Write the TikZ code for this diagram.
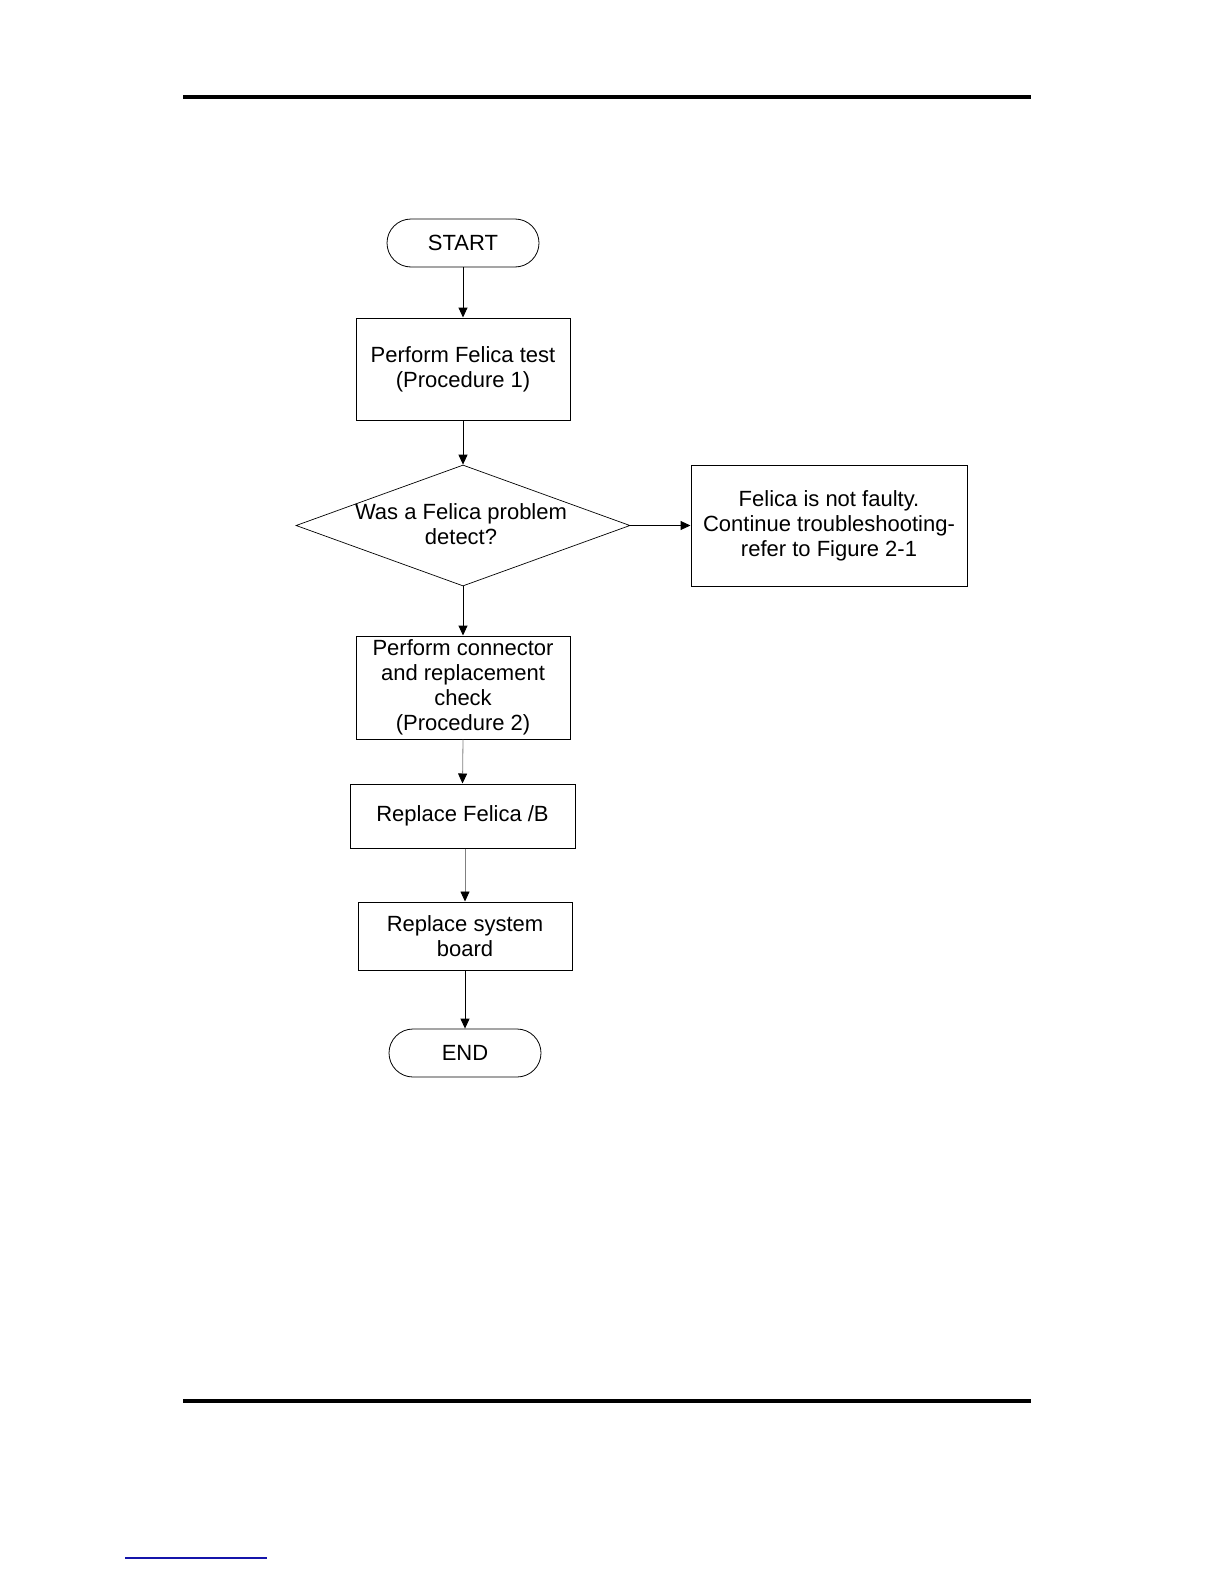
\documentclass[tikz,border=0pt]{standalone}
\usepackage{fontspec}
\setmainfont{Liberation Sans}
\usetikzlibrary{arrows.meta,shapes.geometric}
\begin{document}
\begin{tikzpicture}[x=1pt,y=-1pt,
  every node/.style={font=\fontsize{22}{25}\selectfont, align=center, inner sep=0pt},
  procbox/.style={draw, line width=1pt, rectangle},
  termbox/.style={draw, line width=0.8pt, rectangle, rounded corners=24pt, minimum width=152pt, minimum height=48pt},
  arr/.style={line width=1pt, -{Triangle[length=10pt,width=9pt]}},
  grayarr/.style={line width=0.8pt, draw=gray, -{Triangle[length=10pt,width=9pt,color=black]}}
]
\useasboundingbox (0,0) rectangle (1224,1584);
\fill[white] (0,0) rectangle (1224,1584);
% header / footer rules
\draw[line width=4pt] (183,97) -- (1031,97);
\draw[line width=4pt] (183,1401) -- (1031,1401);
\draw[line width=1.2pt, draw={rgb,255:red,20;green,20;blue,170}] (125,1558) -- (267,1558);

\node[termbox] (start) at (463,243) {START};
\node[procbox, minimum width=214pt, minimum height=102pt] (p1) at (463,369) {Perform Felica test\\(Procedure 1)};
\node[draw, shape=diamond, line width=0.7pt, minimum width=334pt, minimum height=121pt] (dec) at (463,525.5) {};
\node (dectext) at (461,524) {Was a Felica problem\\detect?};
\node[procbox, minimum width=276pt, minimum height=121pt] (nf) at (829,525.5) {Felica is not faulty.\\Continue troubleshooting-\\refer to Figure 2-1};
\node[procbox, minimum width=214pt, minimum height=103pt] (p2) at (463,687.5) {Perform connector\\and replacement\\check\\(Procedure 2)};
\node[procbox, minimum width=225pt, minimum height=64pt] (p3) at (462.5,816) {Replace Felica /B};
\node[procbox, minimum width=214pt, minimum height=68pt] (p4) at (465,936) {Replace system\\board};
\node[termbox] (end) at (465,1053) {END};

\draw[arr] (start) -- (p1);
\draw[arr] (p1) -- (dec.north);
\draw[arr] (dec.east) -- (nf.west);
\draw[arr] (dec.south) -- (p2);
\draw[grayarr] (p2.south) -- (p3.north);
\draw[grayarr] (p4.north |- p3.south) -- (p4.north);
\draw[arr] (p4) -- (end);
\end{tikzpicture}
\end{document}
